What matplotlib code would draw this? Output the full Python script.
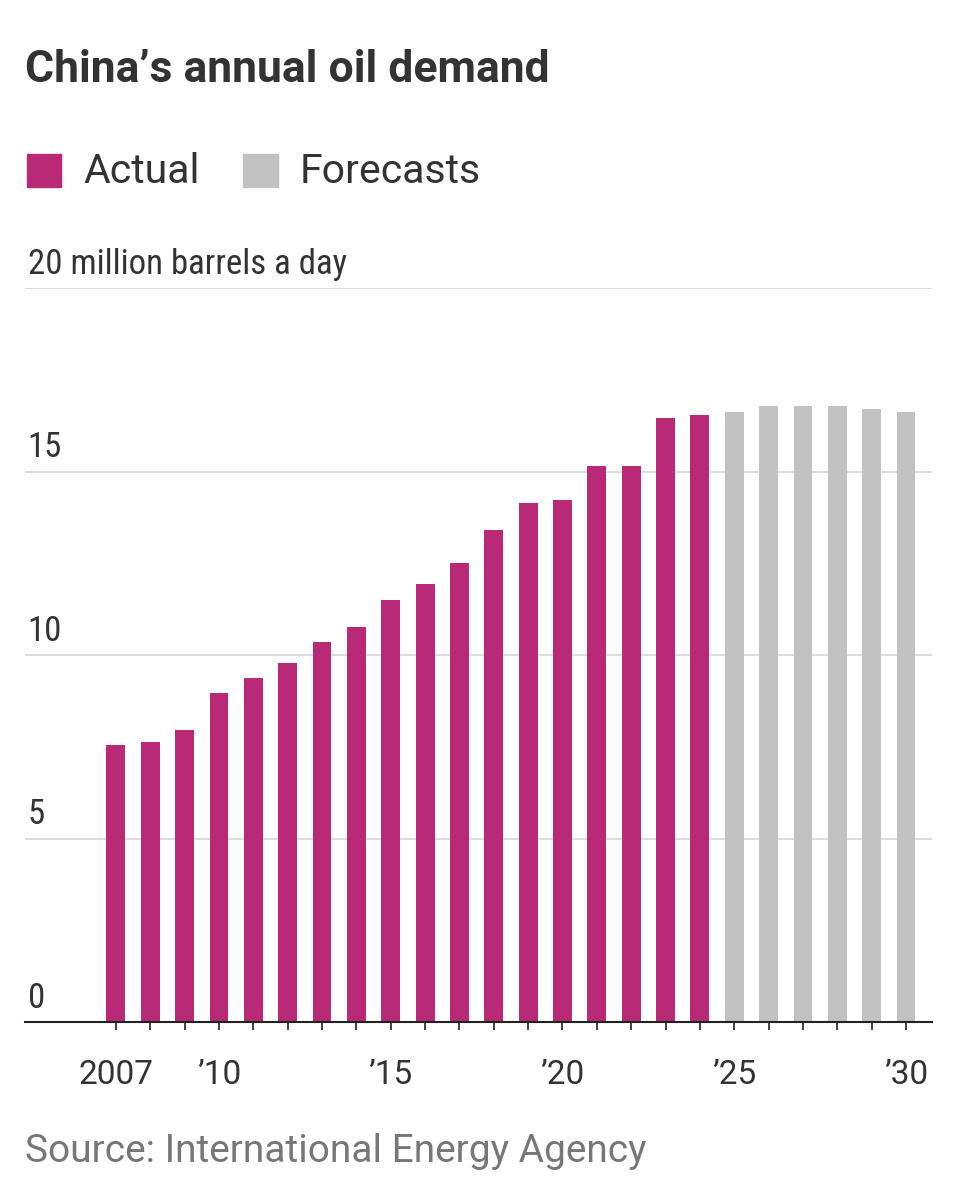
import matplotlib.pyplot as plt
import numpy as np

plt.rcParams['font.family'] = ['Roboto', 'DejaVu Sans']

years_actual = list(range(2007, 2025))
demand_actual = [7.55, 7.63, 7.96, 8.96, 9.37, 9.78, 10.35, 10.76, 11.5, 11.93,
                 12.5, 13.4, 14.14, 14.22, 15.15, 15.15, 16.46, 16.54]
years_fc = list(range(2025, 2031))
demand_fc = [16.62, 16.78, 16.78, 16.78, 16.7, 16.62]

xtick_pos = [2007, 2010, 2015, 2020, 2025, 2030]
xtick_labels = ['2007', '\u201910', '\u201915', '\u201920', '\u201925', '\u201930']
ytick_vals = [0, 5, 10, 15, 20]

magenta = '#B82A78'
grey = '#C2C2C2'
text_col = '#333333'

fig = plt.figure(figsize=(9.57, 12), dpi=100)
ax = fig.add_axes([0.026, 0.148, 0.948, 0.612])

ax.bar(years_actual, demand_actual, width=0.55, color=magenta, zorder=2)
ax.bar(years_fc, demand_fc, width=0.55, color=grey, zorder=2)

ax.set_xlim(2004.35, 2030.76)
ax.set_ylim(0, 20)

for v in ytick_vals[1:]:
    ax.axhline(v, color='#dddddd', lw=1.5, zorder=1)
for v in ytick_vals:
    lab = '20 million barrels a day' if v == 20 else str(v)
    ax.text(0.003, v + 0.2, lab, transform=ax.get_yaxis_transform(),
            fontsize=25, color=text_col, ha='left', va='bottom',
            family=['Roboto Condensed', 'Liberation Sans Narrow', 'Roboto'])

ax.set_yticks([])
for s in ['top', 'right', 'left']:
    ax.spines[s].set_visible(False)
ax.spines['bottom'].set_color('#222222')
ax.spines['bottom'].set_linewidth(1.5)

ax.set_xticks(range(2007, 2031), minor=True)
ax.set_xticks(xtick_pos)
ax.set_xticklabels(xtick_labels, fontsize=24, color=text_col)
ax.tick_params(axis='x', which='both', length=6, width=1.2, color='#222222', pad=20)

fig.text(0.026, 0.942, 'China\u2019s annual oil demand', fontsize=32, fontweight='bold',
         color='#333333', ha='left', va='center')

# legend
fig.patches.append(plt.Rectangle((0.028, 0.844), 0.036, 0.028, color=magenta,
                                 transform=fig.transFigure, figure=fig))
fig.text(0.087, 0.857, 'Actual', fontsize=29.5, color=text_col, va='center')
fig.patches.append(plt.Rectangle((0.254, 0.844), 0.036, 0.028, color=grey,
                                 transform=fig.transFigure, figure=fig))
fig.text(0.313, 0.857, 'Forecasts', fontsize=29.5, color=text_col, va='center')

fig.text(0.026, 0.04, 'Source: International Energy Agency', fontsize=28,
         color='#777777', ha='left', va='center')

fig.savefig('out.png', dpi=100, facecolor='white')
